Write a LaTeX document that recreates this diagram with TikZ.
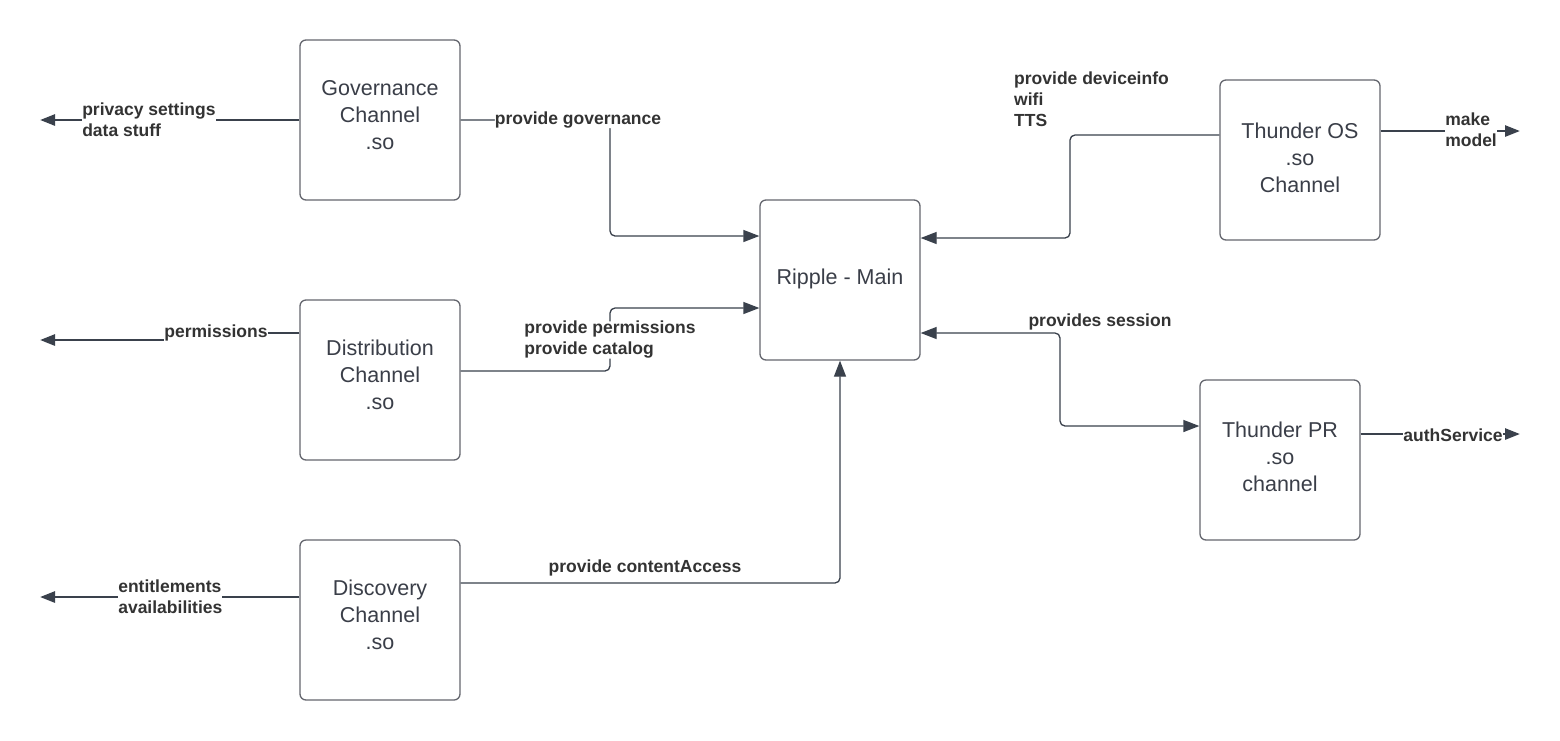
\documentclass[tikz,border=0pt]{standalone}
\usepackage{fontspec}
\setmainfont{Liberation Sans}
\usetikzlibrary{arrows.meta}
\definecolor{linec}{RGB}{58,65,76}
\definecolor{boxc}{RGB}{100,102,110}
\definecolor{txtc}{RGB}{51,51,51}
\definecolor{boxtc}{RGB}{58,62,72}
\tikzset{
  box/.style={draw=boxc, line width=1.3pt, rounded corners=6pt, minimum width=160pt, minimum height=160pt, inner sep=0pt},
  boxtxt/.style={font=\fontsize{21.5}{27}\selectfont, text=boxtc, align=center, inner sep=0pt},
  lbl/.style={font=\bfseries\fontsize{17.5}{21}\selectfont, text=txtc, inner sep=0pt, fill=white, yshift=-2pt},
  conn/.style={draw=linec, line width=1.3pt, rounded corners=5pt, -{Triangle[length=16pt,width=12pt]}},
  biconn/.style={draw=linec, line width=1.3pt, rounded corners=5pt, {Triangle[length=16pt,width=12pt]}-{Triangle[length=16pt,width=12pt]}},
  ext/.style={draw=linec, line width=2.6pt, -{Triangle[length=15pt,width=11pt]}},
}
\begin{document}
\begin{tikzpicture}[x=1pt,y=-1pt]
\useasboundingbox[fill=white] (0,0) rectangle (1560,740);
% boxes
\node[box, label={[boxtxt, yshift=5pt]center:Governance\\Channel\\.so}] (gov) at (380,120) {};
\node[box, label={[boxtxt, yshift=5pt]center:Distribution\\Channel\\.so}] (dist) at (380,380) {};
\node[box, label={[boxtxt, yshift=5pt]center:Discovery\\Channel\\.so}] (disc) at (380,620) {};
\node[box, label={[boxtxt, yshift=1pt]center:Ripple - Main}] (ripple) at (840,280) {};
\node[box, label={[boxtxt, yshift=2pt]center:Thunder OS\\.so\\Channel}] (tos) at (1300,160) {};
\node[box, label={[boxtxt, yshift=3pt]center:Thunder PR\\.so\\channel}] (tpr) at (1280,460) {};
% free ends
\coordinate (govout) at (40,120);
\coordinate (distout) at (40,340);
\coordinate (discout) at (40,597);
\coordinate (tosout) at (1520,131);
\coordinate (tprout) at (1520,434);
% external arrows
\draw[ext] (gov.west) -- (govout)
  node[lbl, anchor=west, align=left] (lgov) at (81,118) {privacy settings\\data stuff};
\draw[ext] ([yshift=47pt]dist.west) -- (166,333) -- (166,340) -- (distout)
  node[lbl] (ldist) at (216,331) {permissions};
\draw[ext] ([yshift=23pt]disc.west) -- (discout)
  node[lbl, anchor=west, align=left] (ldisc) at (117,594.5) {entitlements\\availabilities};
\draw[ext] ([yshift=29pt]tos.east) -- (tosout)
  node[lbl, anchor=west, align=left] (ltos) at (1444,128) {make\\model};
\draw[ext] ([yshift=26pt]tpr.east) -- (tprout)
  node[lbl] (ltpr) at (1453,433) {authService};
% connectors to Ripple
\draw[conn] (gov.east) -- (610,120) |- ([yshift=44pt]ripple.west)
  node[lbl] (lgovr) at (578,118) {provide governance};
\draw[conn] ([yshift=9pt]dist.east) -- (610,371) -- (610,308) -- ([yshift=-28pt]ripple.west)
  node[lbl, align=left] (ldistr) at (610,338) {provide permissions\\provide catalog};
\draw[conn] ([yshift=37pt]disc.east) -| (ripple.south);
\node[lbl] (ldiscr) at (645,566) {provide contentAccess};
\draw[conn] ([yshift=25pt]tos.west) -- (1070,135) |- ([yshift=42pt]ripple.east);
\node[lbl, anchor=west, align=left] (ltosl) at (1014,97) {provide deviceinfo\\wifi\\TTS};
\draw[biconn] ([yshift=-53pt]ripple.east) -- (1060,333) |- ([yshift=34pt]tpr.west);
\node[lbl] (lses) at (1100,320) {provides session};
\end{tikzpicture}
\end{document}
